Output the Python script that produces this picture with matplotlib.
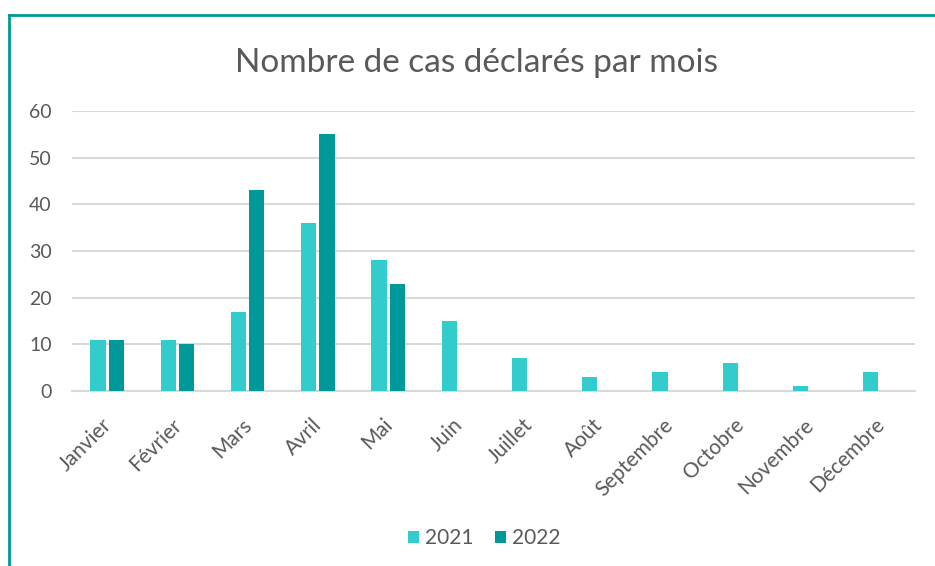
import numpy as np
import matplotlib.pyplot as plt
from matplotlib.lines import Line2D
from matplotlib.transforms import ScaledTranslation

mois = ['Janvier', 'Février', 'Mars', 'Avril', 'Mai', 'Juin', 'Juillet',
        'Août', 'Septembre', 'Octobre', 'Novembre', 'Décembre']
cas_2021 = [11, 11, 17, 36, 28, 15, 7, 3, 4, 6, 1, 4]
cas_2022 = [11, 10, 43, 55, 23, np.nan, np.nan, np.nan, np.nan, np.nan, np.nan, np.nan]

plt.rcParams['font.family'] = ['Lato', 'DejaVu Sans']
gris = '#595959'

fig = plt.figure(figsize=(9.35, 5.66), dpi=100)
ax = fig.add_axes([0.077, 0.309, 0.9016, 0.495])

x = np.arange(len(mois))
ax.bar(x - 0.13, cas_2021, width=0.22, color='#33CCCC', label='2021', zorder=3)
ax.bar(x + 0.13, cas_2022, width=0.22, color='#009999', label='2022', zorder=3)

ax.set_xlim(-0.5, len(mois) - 0.5)
ax.set_ylim(0, 60)
ax.set_yticks(range(0, 61, 10))
ax.grid(axis='y', color='#D9D9D9', linewidth=1.5, zorder=0)
for s in ['top', 'right', 'left']:
    ax.spines[s].set_visible(False)
ax.spines['bottom'].set_color('#D9D9D9')
ax.spines['bottom'].set_linewidth(1.5)
ax.tick_params(axis='both', length=0, colors=gris)
ax.tick_params(axis='y', pad=14.5, labelsize=14)
ax.tick_params(axis='x', pad=17, labelsize=15)
ax.set_xticks(x)
ax.set_xticklabels(mois, rotation=45, ha='right', rotation_mode='anchor')
# decaler un peu les libelles vers la gauche
decal = ScaledTranslation(-0.06, 0, fig.dpi_scale_trans)
for lab in ax.get_xticklabels():
    lab.set_transform(lab.get_transform() + decal)

fig.suptitle('Nombre de cas déclarés par mois', x=0.51, y=0.915, fontsize=24, color=gris)

fig.legend(loc='center', bbox_to_anchor=(0.518, 0.049), ncol=2, frameon=False,
           fontsize=15, labelcolor=gris, handlelength=0.55, handleheight=0.55,
           handletextpad=0.3, columnspacing=1.0)

# cadre
fig.add_artist(Line2D([9 / 935, 9 / 935], [0, 1 - 15 / 566], color='#009A96', linewidth=2))
fig.add_artist(Line2D([9 / 935, 1], [1 - 15 / 566, 1 - 15 / 566], color='#009A96', linewidth=2))

fig.savefig('out.png', dpi=100)
